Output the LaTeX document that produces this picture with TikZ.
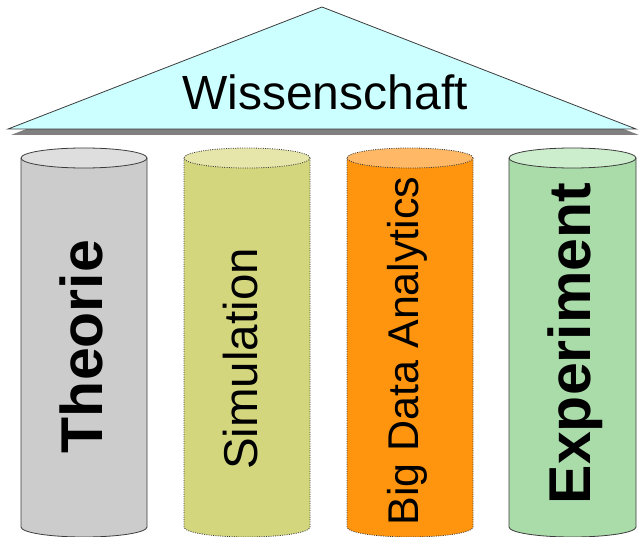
\documentclass[tikz,border=0pt]{standalone}
\usepackage{fontspec}
\setmainfont{Liberation Sans}
\usepackage{tikz}

\definecolor{roof}{HTML}{CCFFFF}
\definecolor{roofshadow}{HTML}{808080}
\definecolor{rimgray}{HTML}{3C3C3C}
\definecolor{theoriebody}{HTML}{CCCCCC}
\definecolor{theorietop}{HTML}{DEDEDE}
\definecolor{simbody}{HTML}{D4D67E}
\definecolor{simtop}{HTML}{E6E6AA}
\definecolor{bigbody}{HTML}{FF950E}
\definecolor{bigtop}{HTML}{FFB966}
\definecolor{expbody}{HTML}{AADCAA}
\definecolor{exptop}{HTML}{CCEECC}

\begin{document}
\begin{tikzpicture}[x = 1bp, y = -1bp, line width = 0.8bp,
    rim/.style = {draw = rimgray},
    dotrim/.style = {draw = rimgray, dash pattern = on 1bp off 1.3bp},
    lbl/.style = {rotate = 90, anchor = base, inner sep = 0pt}]
        \useasboundingbox (0,0) rectangle (639,537);

        % roof
        \fill [roofshadow]
        (11,135) -- (325,13) -- (639,135) -- cycle;

        \draw [fill = roof, rim]
        (8,129) -- (322,7) -- (636,129) -- cycle;

        \node [anchor = base, inner sep = 0pt, font = \fontsize{48bp}{48bp}\selectfont]
        (wissenschaft) at (325,110) {Wissenschaft};

        % Theorie
        \filldraw [fill = theoriebody, rim]
        (21,158) -- (21,527) arc [start angle = 180, end angle = 360, x radius = 63bp, y radius = 10bp] -- (147,158);
        \filldraw [fill = theorietop, rim] (84,158) ellipse [x radius = 63bp, y radius = 10bp];
        \node [lbl, font = \fontsize{59bp}{59bp}\selectfont\bfseries]
        (theorie) at (102,346.5) {Theorie};

        % Simulation
        \filldraw [fill = simbody, dotrim]
        (184,158) -- (184,527) arc [start angle = 180, end angle = 360, x radius = 63bp, y radius = 10bp] -- (310,158);
        \filldraw [fill = simtop, dotrim] (247,158) ellipse [x radius = 63bp, y radius = 10bp];
        \node [lbl, font = \fontsize{47.5bp}{47.5bp}\selectfont]
        (simulation) at (257,359) {Simulation};

        % Big Data Analytics
        \filldraw [fill = bigbody, dotrim]
        (347,158) -- (347,527) arc [start angle = 180, end angle = 360, x radius = 63bp, y radius = 10bp] -- (473,158);
        \filldraw [fill = bigtop, dotrim] (410,158) ellipse [x radius = 63bp, y radius = 10bp];
        \node [lbl, font = \fontsize{43bp}{43bp}\selectfont]
        (bigdata) at (418,351) {Big Data Analytics};

        % Experiment
        \filldraw [fill = expbody, rim]
        (509,158) -- (509,527) arc [start angle = 180, end angle = 360, x radius = 63.5bp, y radius = 10bp] -- (636,158);
        \filldraw [fill = exptop, rim] (572.5,158) ellipse [x radius = 63.5bp, y radius = 10bp];
        \node [lbl, font = \fontsize{59bp}{59bp}\selectfont\bfseries]
        (experiment) at (590,343.5) {Experiment};
    \end{tikzpicture}
\end{document}
